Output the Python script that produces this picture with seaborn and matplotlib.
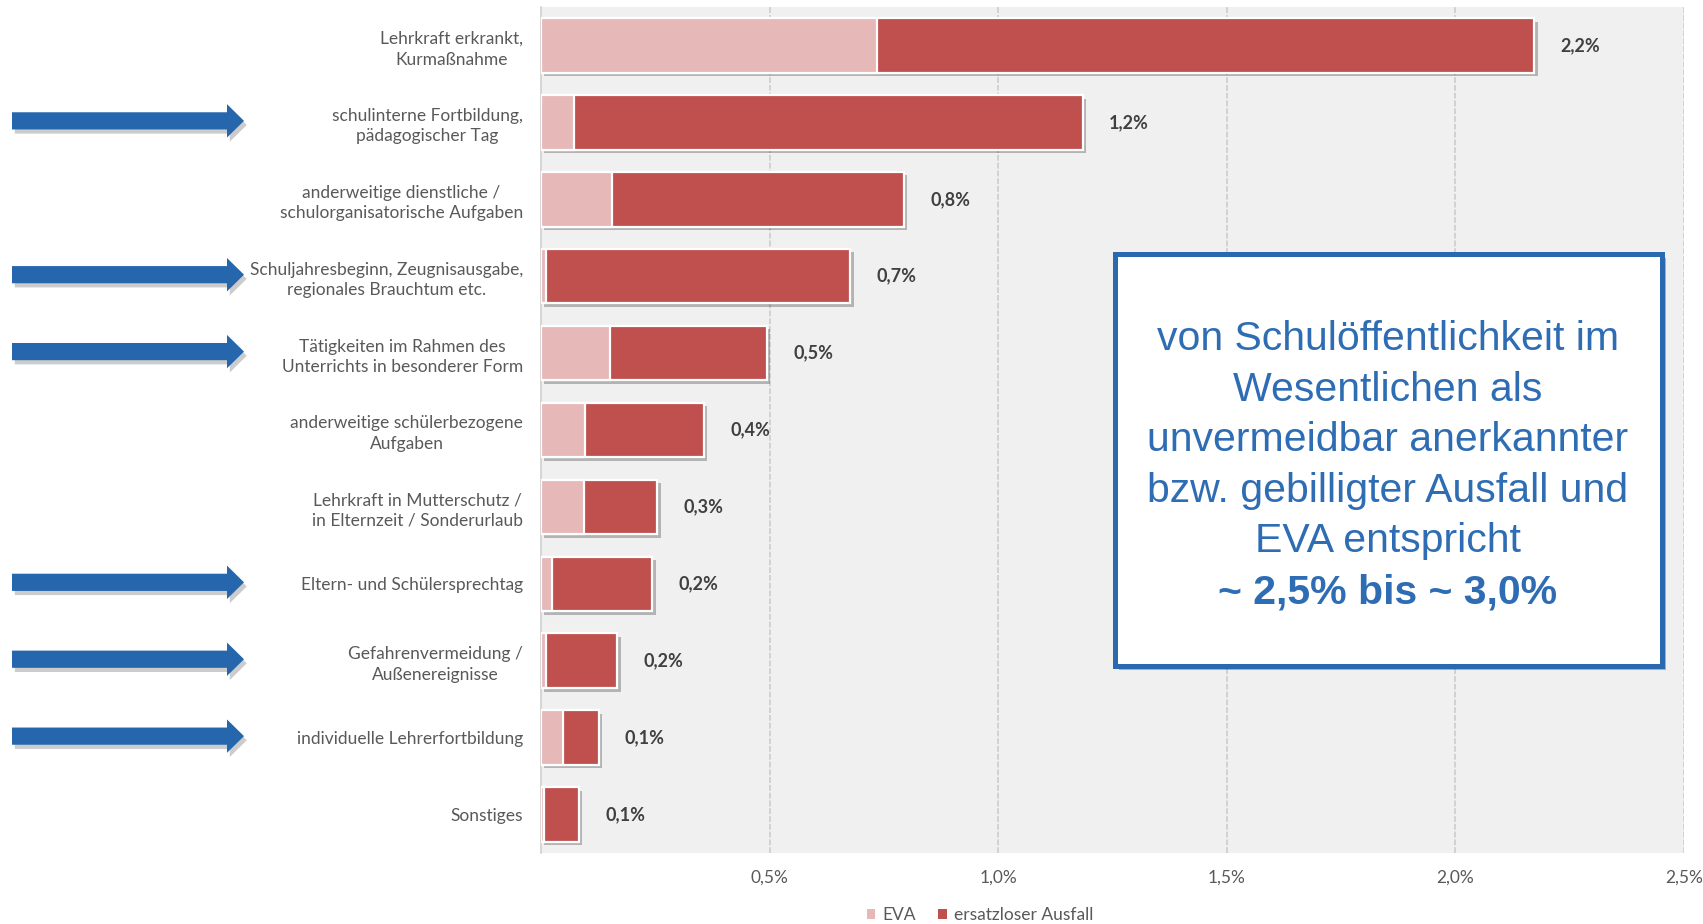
import numpy as np
import pandas as pd
import matplotlib
matplotlib.use("Agg")
import matplotlib.pyplot as plt
import matplotlib.patheffects as pe
from matplotlib.patches import Polygon, Rectangle, Patch
from matplotlib.ticker import FuncFormatter
import seaborn as sns

# --- data (share of lessons, in %) ---
kategorien = [
    "Lehrkraft erkrankt,\nKurmaßnahme",
    "schulinterne Fortbildung,\npädagogischer Tag",
    "anderweitige dienstliche /\nschulorganisatorische Aufgaben",
    "Schuljahresbeginn, Zeugnisausgabe,\nregionales Brauchtum etc.",
    "Tätigkeiten im Rahmen des\nUnterrichts in besonderer Form",
    "anderweitige schülerbezogene\nAufgaben",
    "Lehrkraft in Mutterschutz /\nin Elternzeit / Sonderurlaub",
    "Eltern- und Schülersprechtag",
    "Gefahrenvermeidung /\nAußenereignisse",
    "individuelle Lehrerfortbildung",
    "Sonstiges",
]
eva = [0.734, 0.073, 0.156, 0.011, 0.152, 0.097, 0.095, 0.024, 0.012, 0.048, 0.007]
gesamt = [2.172, 1.185, 0.794, 0.676, 0.494, 0.356, 0.254, 0.243, 0.167, 0.126, 0.083]
markiert = [False, True, False, True, True, False, False, True, True, True, False]
x_ticks = [0.5, 1.0, 1.5, 2.0, 2.5]

serien = ["EVA", "ersatzloser Ausfall"]
farben = {"EVA": "#E6B8B7", "ersatzloser Ausfall": "#C0504D"}

hinweis_zeilen = [
    "von Schulöffentlichkeit im",
    "Wesentlichen als",
    "unvermeidbar anerkannter",
    "bzw. gebilligter Ausfall und",
    "EVA entspricht",
]
hinweis_fett = "~ 2,5% bis ~ 3,0%"

df = pd.DataFrame({"kategorie": kategorien, "eva": eva, "gesamt": gesamt})

W, H, DPI = 1703, 924, 100
sns.set_theme(style="white")
plt.rcParams["font.family"] = ["Lato", "DejaVu Sans"]

fig = plt.figure(figsize=(W / DPI, H / DPI), dpi=DPI)
ax = fig.add_axes([541 / W, 1 - 853 / H, (1684 - 541) / W, (853 - 7) / H])
ax.set_facecolor("#F0F0F0")

# stacked bars: full length in dark red, EVA share on top from zero
sns.barplot(data=df, x="gesamt", y="kategorie", color=farben["ersatzloser Ausfall"],
            saturation=1, width=0.71, edgecolor="white", linewidth=1.6, ax=ax,
            zorder=3)
n_total = len(ax.patches)
shadow = [pe.SimplePatchShadow(offset=(2.5, -2.5), shadow_rgbFace="#000000", alpha=0.25),
          pe.Normal()]
for p in ax.patches[:n_total]:
    p.set_path_effects(shadow)
sns.barplot(data=df, x="eva", y="kategorie", color=farben["EVA"],
            saturation=1, width=0.71, edgecolor="white", linewidth=1.6, ax=ax,
            zorder=4)

# value labels
for i, v in enumerate(gesamt):
    ax.annotate(f"{v:.1f}%".replace(".", ","), xy=(v, i), xytext=(19, 0),
                textcoords="offset points", va="center", ha="left",
                fontsize=13, fontweight="bold", color="#404040", zorder=6)

ax.set_xlim(0, 2.5)
ax.set_ylim(len(kategorien) - 0.5, -0.5)
ax.set_xticks(x_ticks)
ax.xaxis.set_major_formatter(FuncFormatter(lambda v, _: f"{v:.1f}%".replace(".", ",")))
ax.tick_params(axis="x", length=0, pad=12, labelsize=12.5, labelcolor="#595959")
ax.tick_params(axis="y", length=0, pad=13, labelsize=12.5, labelcolor="#595959")
for lbl in ax.get_yticklabels():
    lbl.set_multialignment("center")
    lbl.set_linespacing(1.35)
    lbl.set_verticalalignment("center_baseline")
ax.set_xlabel("")
ax.set_ylabel("")
ax.grid(axis="x", color="#D2D2D2", linestyle=(0, (3, 1)), linewidth=1.4, zorder=0)
ax.set_axisbelow(True)
for side in ["top", "right", "bottom"]:
    ax.spines[side].set_visible(False)
ax.spines["left"].set_color("#D0D0D0")
ax.spines["left"].set_linewidth(1.2)

# legend
handles = [Patch(facecolor=farben[s], edgecolor="none", label=s) for s in serien]
fig.legend(handles=handles, loc="center", bbox_to_anchor=(980 / W, 9 / H), ncol=2,
           frameon=False, fontsize=12.5, handlelength=0.5, handleheight=0.5,
           handletextpad=0.4, columnspacing=1.3, labelcolor="#595959",
           borderpad=0)

# overlay in pixel coordinates for arrows and the note box
ov = fig.add_axes([0, 0, 1, 1], zorder=10)
ov.set_xlim(0, W)
ov.set_ylim(H, 0)
ov.axis("off")
ov.patch.set_alpha(0)

blau = "#2566AD"
arrow_shadow = [pe.SimplePatchShadow(offset=(2, -3), shadow_rgbFace="#000000", alpha=0.2),
                pe.Normal()]
for i, m in enumerate(markiert):
    if not m:
        continue
    yc = H - ax.transData.transform((0, i))[1] - 1.5
    pts = [(12, yc - 8.6), (227, yc - 8.6), (227, yc - 16.7), (244, yc),
           (227, yc + 16.7), (227, yc + 8.6), (12, yc + 8.6)]
    arr = Polygon(pts, closed=True, facecolor=blau, edgecolor="none")
    arr.set_path_effects(arrow_shadow)
    ov.add_patch(arr)

box = Rectangle((1114.5, 253.5), 547, 412, facecolor="white", edgecolor="#2A69B0",
                linewidth=3.6)
box.set_path_effects([pe.SimplePatchShadow(offset=(3, -3), shadow_rgbFace="#000000",
                                           alpha=0.28), pe.Normal()])
ov.add_patch(box)
tx = 1388
for k, zeile in enumerate(hinweis_zeilen):
    ov.text(tx, 350 + 50.6 * k, zeile, ha="center", va="baseline", fontsize=29.5,
            color="#2E6DB4", family=["Liberation Sans", "DejaVu Sans"])
ov.text(tx, 350 + 50.6 * 5, hinweis_fett, ha="center", va="baseline", fontsize=29.5,
        fontweight="bold", color="#2E6DB4", family=["Liberation Sans", "DejaVu Sans"])

fig.savefig("out.png", dpi=DPI)
